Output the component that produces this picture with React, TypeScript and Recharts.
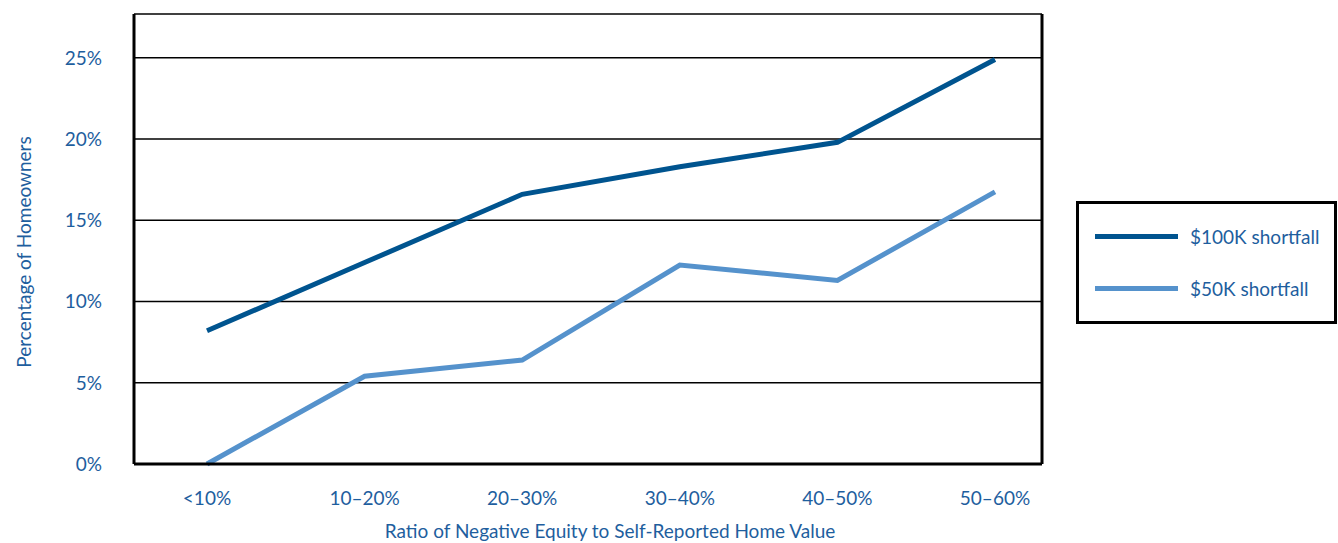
import { LineChart, Line, XAxis, YAxis, CartesianGrid } from "recharts";

const categories = ["<10%", "10–20%", "20–30%", "30–40%", "40–50%", "50–60%"];
const shortfall100k = [8.2, 12.4, 16.6, 18.3, 19.8, 24.9];
const shortfall50k = [0, 5.4, 6.4, 12.25, 11.3, 16.75];
const yTicks = [0, 5, 10, 15, 20, 25];
const seriesNames = ["$100K shortfall", "$50K shortfall"];
const seriesColors = ["#00548F", "#5592CC"];

const data = categories.map((c, i) => ({ cat: c, k100: shortfall100k[i], k50: shortfall50k[i] }));

const TEXT = "#1E5E9E";
const FONT = "Lato, 'Open Sans', sans-serif";

function LegendBox() {
  return (
    <div style={{ position: "absolute", left: 1076, top: 201, border: "3px solid #000", width: 255, height: 117, boxSizing: "content-box", fontFamily: FONT, background: "#fff" }}>
      {seriesNames.map((name, i) => (
        <div key={i} style={{ display: "flex", alignItems: "center", height: 18, marginTop: i === 0 ? 23 : 34, marginLeft: 16 }}>
          <div style={{ width: 83, height: 5, background: seriesColors[i] }} />
          <span style={{ marginLeft: 12, color: TEXT, fontSize: 19 }}>{name}</span>
        </div>
      ))}
    </div>
  );
}

export default function App() {
  return (
    <div style={{ position: "absolute", left: 0, top: 0, width: 1338, height: 543, background: "#fff" }}>
      <LineChart width={1338} height={543} data={data} margin={{ top: 14, right: 295, bottom: 39, left: 74 }}>
        <CartesianGrid vertical={false} stroke="#000" strokeWidth={1.5} />
        <XAxis
          dataKey="cat"
          padding={{ left: 73, right: 47 }}
          height={40}
          axisLine={{ stroke: "#000", strokeWidth: 3 }}
          tickLine={false}
          tickMargin={22}
          tick={{ fill: TEXT, fontSize: 19, fontFamily: FONT }}
          label={{ value: "Ratio of Negative Equity to Self-Reported Home Value", position: "insideBottom", offset: -34, dx: 22, fill: TEXT, fontSize: 19, fontFamily: FONT }}
        />
        <XAxis xAxisId="top" orientation="top" dataKey="cat" height={0} tick={false} tickLine={false} axisLine={{ stroke: "#000", strokeWidth: 3 }} />
        <YAxis
          domain={[0, 27.7]}
          ticks={yTicks}
          width={60}
          tickFormatter={(v) => `${v}%`}
          axisLine={{ stroke: "#000", strokeWidth: 3 }}
          tickLine={false}
          tickMargin={26}
          tick={{ fill: TEXT, fontSize: 19, fontFamily: FONT }}
          label={{ value: "Percentage of Homeowners", angle: -90, position: "insideLeft", offset: -50, dy: 13, fill: TEXT, fontSize: 19, fontFamily: FONT, style: { textAnchor: "middle" } }}
        />
        <YAxis yAxisId="right" orientation="right" domain={[0, 27.7]} width={1} tick={false} tickLine={false} axisLine={{ stroke: "#000", strokeWidth: 3 }} />
        <Line type="linear" dataKey="k100" name={seriesNames[0]} stroke={seriesColors[0]} strokeWidth={5} dot={false} isAnimationActive={false} />
        <Line type="linear" dataKey="k50" name={seriesNames[1]} stroke={seriesColors[1]} strokeWidth={5} dot={false} isAnimationActive={false} />
      </LineChart>
      <LegendBox />
    </div>
  );
}
